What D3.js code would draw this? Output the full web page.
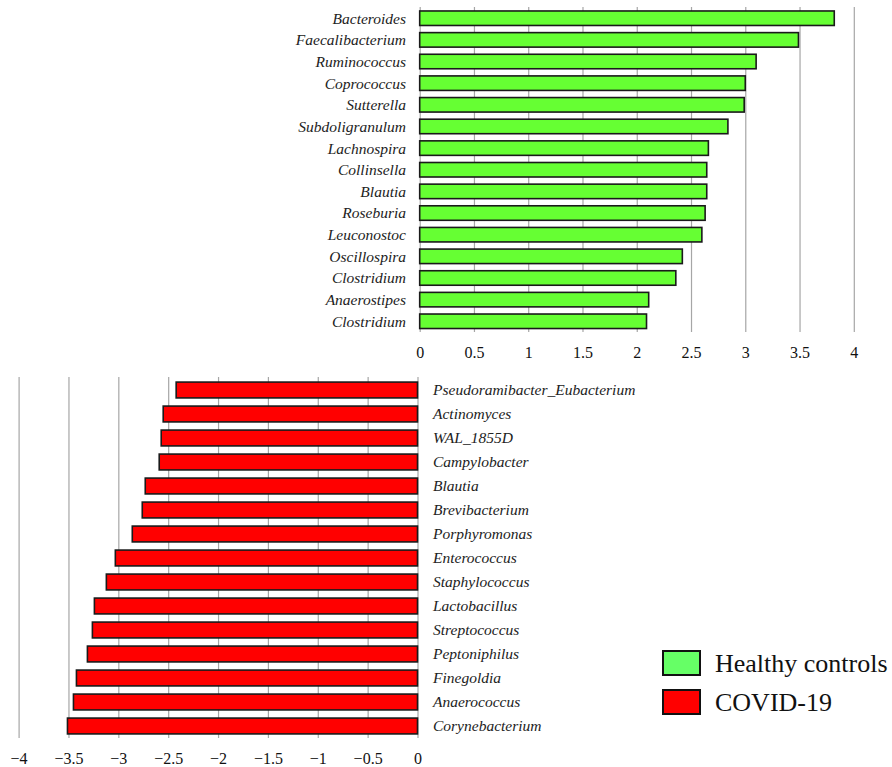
<!DOCTYPE html>
<html>
<head>
<meta charset="utf-8">
<script src="https://cdn.jsdelivr.net/npm/d3@7"></script>
<style>
  html, body { margin: 0; padding: 0; background: #fff; }
  svg { display: block; }
</style>
</head>
<body>
<svg id="chart" width="892" height="767"></svg>
<script>
// Genera enriched in healthy controls (LDA score)
const healthyGenera = [
  "Bacteroides", "Faecalibacterium", "Ruminococcus", "Coprococcus", "Sutterella",
  "Subdoligranulum", "Lachnospira", "Collinsella", "Blautia", "Roseburia",
  "Leuconostoc", "Oscillospira", "Clostridium", "Anaerostipes", "Clostridium"
];
const healthyScores = [
  3.82, 3.49, 3.10, 3.00, 2.99,
  2.84, 2.66, 2.645, 2.645, 2.63,
  2.60, 2.42, 2.36, 2.11, 2.09
];

// Genera enriched in COVID-19 patients (negative LDA score)
const covidGenera = [
  "Pseudoramibacter_Eubacterium", "Actinomyces", "WAL_1855D", "Campylobacter", "Blautia",
  "Brevibacterium", "Porphyromonas", "Enterococcus", "Staphylococcus", "Lactobacillus",
  "Streptococcus", "Peptoniphilus", "Finegoldia", "Anaerococcus", "Corynebacterium"
];
const covidScores = [
  -2.42, -2.55, -2.57, -2.59, -2.73,
  -2.76, -2.86, -3.03, -3.12, -3.24,
  -3.26, -3.31, -3.42, -3.45, -3.51
];

const healthyTicks = [0, 0.5, 1, 1.5, 2, 2.5, 3, 3.5, 4];
const covidTicks = [-4, -3.5, -3, -2.5, -2, -1.5, -1, -0.5, 0];

const legendLabels = ["Healthy controls", "COVID-19"];
const legendColors = ["#66ff66", "#ff0000"];

const svg = d3.select("#chart");
svg.append("rect").attr("width", 892).attr("height", 767).attr("fill", "#fff");

const serif = "'Liberation Serif', 'Times New Roman', serif";
const gridColor = "#a6a6a6";
const fmt = d => d3.format("~g")(d);

function panel(opts) {
  const { genera, scores, ticks, xDomain, xRange, yRange, gridTop, gridBottom,
          fill, labelX, labelAnchor, pInner, pOuter } = opts;
  const g = svg.append("g");
  const x = d3.scaleLinear().domain(xDomain).range(xRange);
  const y = d3.scaleBand().domain(d3.range(genera.length)).range(yRange)
    .paddingInner(pInner).paddingOuter(pOuter);

  // gridlines + tick labels
  const axis = d3.axisBottom(x).tickValues(ticks).tickFormat(fmt)
    .tickSize(-(gridBottom - gridTop)).tickPadding(14.6).tickSizeOuter(0);
  const ax = g.append("g").attr("transform", `translate(0,${gridBottom})`).call(axis);
  ax.select(".domain").remove();
  ax.selectAll(".tick line").attr("stroke", gridColor).attr("stroke-width", 1.2);
  ax.selectAll(".tick text").attr("font-family", serif).attr("font-size", 16)
    .attr("fill", "#111");

  // bars
  g.append("g").selectAll("rect").data(scores).join("rect")
    .attr("x", d => Math.min(x(0), x(d)))
    .attr("y", (d, i) => y(i))
    .attr("width", d => Math.abs(x(d) - x(0)))
    .attr("height", y.bandwidth())
    .attr("fill", fill)
    .attr("stroke", "#1a1a1a")
    .attr("stroke-width", 1.6);

  // genus labels
  g.append("g").selectAll("text").data(genera).join("text")
    .attr("x", labelX)
    .attr("y", (d, i) => y(i) + y.bandwidth() / 2)
    .attr("dy", "0.35em")
    .attr("text-anchor", labelAnchor)
    .attr("font-family", serif)
    .attr("font-style", "italic")
    .attr("font-size", 15.5)
    .attr("fill", "#222")
    .text(d => d);
}

panel({
  genera: healthyGenera, scores: healthyScores, ticks: healthyTicks,
  xDomain: [0, 4], xRange: [419.7, 853.8], yRange: [7.4, 332.1],
  gridTop: 7, gridBottom: 332, fill: "#66ff33",
  labelX: 406, labelAnchor: "end", pInner: 0.33, pOuter: 0.165
});

panel({
  genera: covidGenera, scores: covidScores, ticks: covidTicks,
  xDomain: [-4, 0], xRange: [18.6, 417.5], yRange: [378, 738],
  gridTop: 377, gridBottom: 738, fill: "#ff0000",
  labelX: 433, labelAnchor: "start", pInner: 0.34, pOuter: 0.17
});

// legend
const legend = svg.append("g").attr("transform", "translate(663,651)");
legendLabels.forEach((lab, i) => {
  const row = legend.append("g").attr("transform", `translate(0,${i * 39})`);
  row.append("rect").attr("width", 37).attr("height", 24)
    .attr("fill", legendColors[i]).attr("stroke", "#111").attr("stroke-width", 2);
  row.append("text").attr("x", 52).attr("y", 12).attr("dy", "0.35em")
    .attr("font-family", serif).attr("font-size", 26).attr("fill", "#111")
    .text(lab);
});
</script>
</body>
</html>
